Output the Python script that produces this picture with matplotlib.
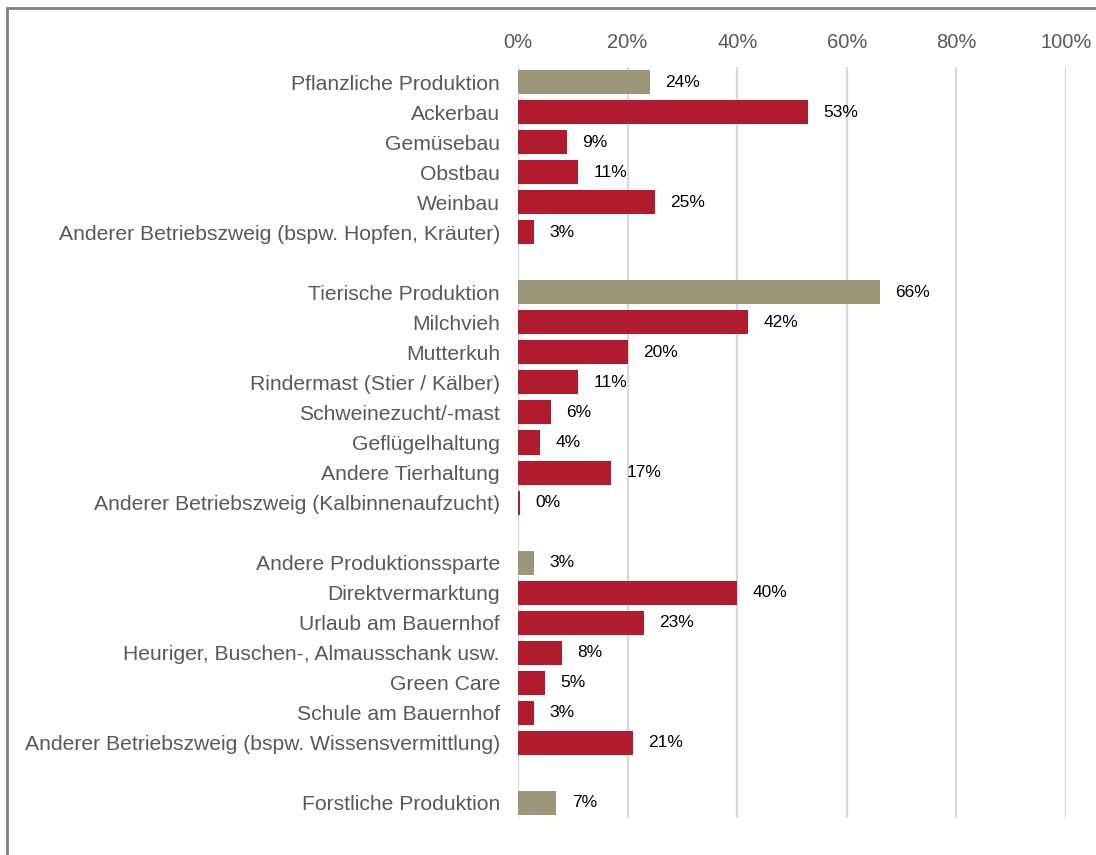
import matplotlib
matplotlib.use("Agg")
import matplotlib.pyplot as plt
from matplotlib.patches import Rectangle

plt.rcParams['font.family'] = ['Liberation Sans', 'DejaVu Sans']

categories = [
    "Pflanzliche Produktion", "Ackerbau", "Gemüsebau", "Obstbau", "Weinbau",
    "Anderer Betriebszweig (bspw. Hopfen, Kräuter)", "",
    "Tierische Produktion", "Milchvieh", "Mutterkuh", "Rindermast (Stier / Kälber)",
    "Schweinezucht/-mast", "Geflügelhaltung", "Andere Tierhaltung",
    "Anderer Betriebszweig (Kalbinnenaufzucht)", "",
    "Andere Produktionssparte", "Direktvermarktung", "Urlaub am Bauernhof",
    "Heuriger, Buschen-, Almausschank usw.", "Green Care", "Schule am Bauernhof",
    "Anderer Betriebszweig (bspw. Wissensvermittlung)", "",
    "Forstliche Produktion",
]
values = [24, 53, 9, 11, 25, 3, None,
          66, 42, 20, 11, 6, 4, 17, 0.3, None,
          3, 40, 23, 8, 5, 3, 21, None,
          7]
is_main = [True, False, False, False, False, False, None,
           True, False, False, False, False, False, False, False, None,
           True, False, False, False, False, False, False, None,
           True]
ticks = [0, 20, 40, 60, 80, 100]

RED = "#B01C2E"
OLIVE = "#9C967A"

fig = plt.figure(figsize=(10.96, 8.55), dpi=100)
W, H = 1096, 855
ax = fig.add_axes([518 / W, (H - 818) / H, (1066 - 518) / W, (818 - 67) / H])

for i, (v, m) in enumerate(zip(values, is_main)):
    if v is None:
        continue
    ax.barh(i, v, height=0.8, color=OLIVE if m else RED, zorder=3)
    ax.annotate(f"{round(v)}%", xy=(v, i), xytext=(11, 0), textcoords="offset points",
                va="center", ha="left", fontsize=12.5, color="black")

ax.set_ylim(len(categories) - 0.5, -0.5)
ax.set_xlim(0, 100)
ax.set_yticks(range(len(categories)))
ax.set_yticklabels(categories, fontsize=15.2, color="#595959")
ax.set_xticks(ticks)
ax.set_xticklabels([f"{t}%" for t in ticks], fontsize=14.5, color="#595959")
ax.xaxis.tick_top()
ax.tick_params(axis='both', length=0)
ax.tick_params(axis='y', pad=13)
ax.tick_params(axis='x', pad=11)
for s in ax.spines.values():
    s.set_visible(False)
ax.grid(axis='x', color="#D9D9D9", linewidth=1.6, zorder=0)
ax.set_axisbelow(True)

fig.patches.append(Rectangle((7 / W, -0.1), 1.2, (H - 8) / H + 0.1, transform=fig.transFigure,
                             fill=False, edgecolor="#808080", linewidth=2, zorder=10))

fig.savefig("out.png", dpi=100)
